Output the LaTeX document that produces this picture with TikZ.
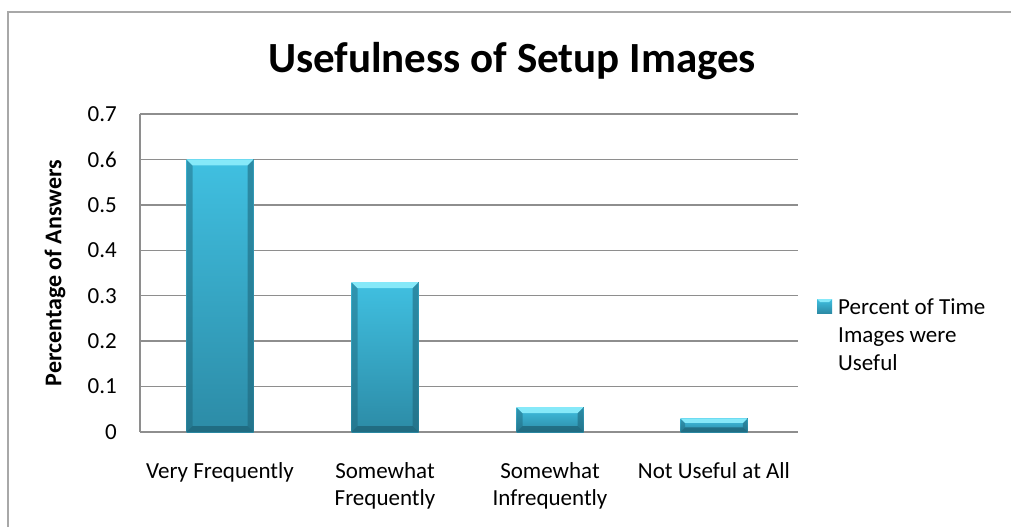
\documentclass[tikz,border=0pt]{standalone}
\usepackage{fontspec}
\setmainfont{Carlito}
\usetikzlibrary{positioning}

\definecolor{barlight}{HTML}{40C0E1}
\definecolor{bardark}{HTML}{2C8BA6}
\definecolor{barbevel}{HTML}{86E9F9}
\definecolor{baredge}{HTML}{1D6276}
\definecolor{gridgray}{HTML}{8E8E8E}
\definecolor{framegray}{HTML}{A8A8A8}

\tikzset{
	gridline/.style={draw=gridgray, line width=1.4pt},
	plaintext/.style={inner sep=0pt, font=\fontsize{23}{27}\selectfont},
	ticklabel/.style={plaintext, anchor=east},
	catlabel/.style={plaintext, anchor=north, align=center},
	barbody/.style={top color=barlight, bottom color=bardark, draw=none},
}

\begin{document}
\begin{tikzpicture}[x=1pt,y=-1pt]
	\useasboundingbox (0,0) rectangle (1011,527);
	% chart frame, only its left and top edges fall on the page
	\draw[framegray, line width=2pt] (8,527) -- (8,12) -- (1011,12);

	\node[inner sep=0pt, anchor=base, font=\fontsize{43}{48}\selectfont\bfseries] (title) at (512,73) {Usefulness of Setup Images};

	% value axis and grid
	\foreach \i in {0,...,7} {
		\pgfmathsetmacro\gy{432-\i*45.43}
		\draw[gridline] (140,\gy) -- (798,\gy);
		\node[ticklabel] (tick\i) at (117,\gy) {\ifnum\i=0 0\else 0.\i\fi};
	}
	\draw[gridline] (140,114) -- (140,432);
	\node[inner sep=0pt, rotate=90, font=\fontsize{24}{28}\selectfont\bfseries] (ytitle) at (55,273) {Percentage of Answers};

	% bevelled bars
	\foreach \cx/\val [count=\k] in {220/0.6, 385/0.33, 550/0.055, 714/0.03} {
		\pgfmathsetmacro\yt{432-\val*454.3}
		\pgfmathsetmacro\xl{\cx-33.5}
		\pgfmathsetmacro\xr{\cx+33.5}
		\pgfmathsetmacro\bv{min(6,(432-\yt)/3)}
		\fill[barbody] (\xl,\yt) rectangle (\xr,432);
		\fill[baredge, opacity=0.45] (\xl,\yt) -- (\xl+\bv,\yt+\bv) -- (\xl+\bv,432-\bv) -- (\xl,432) -- cycle;
		\fill[baredge, opacity=0.55] (\xr,\yt) -- (\xr-\bv,\yt+\bv) -- (\xr-\bv,432-\bv) -- (\xr,432) -- cycle;
		\fill[baredge, opacity=0.75] (\xl,432) -- (\xl+\bv,432-\bv) -- (\xr-\bv,432-\bv) -- (\xr,432) -- cycle;
		\fill[barbevel] (\xl,\yt) -- (\xr,\yt) -- (\xr-\bv,\yt+\bv) -- (\xl+\bv,\yt+\bv) -- cycle;
		\coordinate (bar\k) at (\cx,\yt);
	}

	% category names, first baselines at 479
	\node[catlabel] (cat1) at (220,462) {Very Frequently};
	\node[catlabel] (cat2) at (385,462) {Somewhat\\Frequently};
	\node[catlabel] (cat3) at (550,462) {Somewhat\\Infrequently};
	\node[catlabel] (cat4) at (714,462) {Not Useful at All};

	% legend
	\fill[barbody] (817,299) rectangle (832,313);
	\fill[barbevel] (817,299) -- (832,299) -- (829,302) -- (820,302) -- cycle;
	\node[plaintext, anchor=north west, align=left, font=\fontsize{23}{28}\selectfont] (legend) at (838,298) {Percent of Time\\Images were\\Useful};
\end{tikzpicture}
\end{document}
